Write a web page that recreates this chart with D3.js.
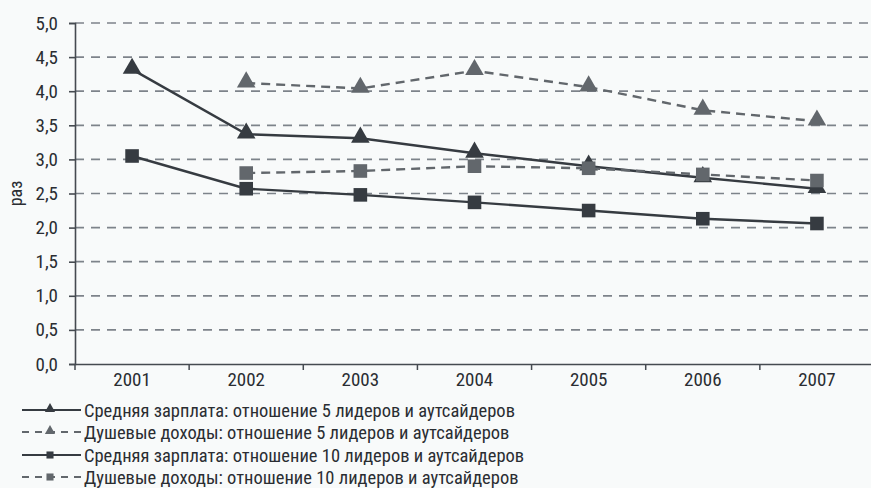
<!DOCTYPE html>
<html><head><meta charset="utf-8">
<script src="https://cdn.jsdelivr.net/npm/d3@7"></script>
<style>
html,body{margin:0;padding:0;background:#f8fafa;}
svg{display:block;font-family:"Liberation Sans Narrow","Roboto Condensed","Arial Narrow","Liberation Sans",sans-serif;font-weight:400;}
</style></head>
<body><svg id="c" width="871" height="488"></svg>
<script>
const years = ["2001","2002","2003","2004","2005","2006","2007"];
const wage5   = [4.32, 3.37, 3.31, 3.09, 2.90, 2.73, 2.57];
const income5 = [null, 4.12, 4.04, 4.30, 4.06, 3.72, 3.56];
const wage10  = [3.05, 2.57, 2.48, 2.37, 2.25, 2.13, 2.06];
const income10= [null, 2.80, 2.83, 2.90, 2.87, 2.78, 2.69];
const yTicks = [0,0.5,1,1.5,2,2.5,3,3.5,4,4.5,5];
const seriesNames = [
  "Средняя зарплата: отношение 5 лидеров и аутсайдеров",
  "Душевые доходы: отношение 5 лидеров и аутсайдеров",
  "Средняя зарплата: отношение 10 лидеров и аутсайдеров",
  "Душевые доходы: отношение 10 лидеров и аутсайдеров"
];
const yLabel = "раз";

const series = [
  {name: seriesNames[0], values: wage5, dash: null, marker: "tri", color: "#363b41"},
  {name: seriesNames[1], values: income5, dash: "9,6", marker: "tri", color: "#62676c"},
  {name: seriesNames[2], values: wage10, dash: null, marker: "sq", color: "#363b41"},
  {name: seriesNames[3], values: income10, dash: "9,6", marker: "sq", color: "#62676c"}
];

const svg = d3.select("#c");
const mLeft = 75, mRight = 874, mTop = 23, mBottom = 364;
const x = d3.scaleBand().domain(years).range([mLeft, mRight]);
const y = d3.scaleLinear().domain([0,5]).range([mBottom, mTop]);
const fmt = d => d3.format(".1f")(d).replace(".", ",");
const axisColor = "#454a50", textColor = "#2a2d32";

// gridlines
svg.append("g").selectAll("line").data(yTicks.filter(d=>d>0)).join("line")
  .attr("x1", mLeft).attr("x2", 871).attr("y1", d=>y(d)).attr("y2", d=>y(d))
  .attr("stroke", "#7d838a").attr("stroke-width", 1.7).attr("stroke-dasharray", "9,7");

// y axis
const ya = svg.append("g").attr("transform", `translate(${mLeft},0)`)
  .call(d3.axisLeft(y).tickValues(yTicks).tickFormat(fmt).tickSize(6).tickPadding(11));
ya.select(".domain").attr("stroke", axisColor).attr("stroke-width", 1.6);
ya.selectAll(".tick line").attr("stroke", axisColor).attr("stroke-width", 1.6);
ya.selectAll("text").attr("fill", textColor).attr("font-size", 19);
ya.attr("font-family", null).attr("font-size", null);

// x axis
const xa = svg.append("g").attr("transform", `translate(0,${mBottom})`)
  .call(d3.axisBottom(x).tickSize(0).tickPadding(9));
xa.select(".domain").attr("stroke", axisColor).attr("stroke-width", 1.6);
xa.selectAll("text").attr("fill", textColor).attr("font-size", 19);
xa.attr("font-family", null).attr("font-size", null);
svg.append("g").selectAll("line").data(years).join("line")
  .attr("x1", d=>x(d)).attr("x2", d=>x(d)).attr("y1", mBottom).attr("y2", mBottom+6)
  .attr("stroke", axisColor).attr("stroke-width", 1.5);

// y label
svg.append("text").attr("transform", `translate(22,${y(2.5)}) rotate(-90)`)
  .attr("text-anchor", "middle").attr("font-size", 18).attr("fill", textColor).text(yLabel);

const cx = d => x(d) + x.bandwidth()/2;
const tri = d3.symbol().type(d3.symbolTriangle);
const sq = d3.symbol().type(d3.symbolSquare);

series.forEach(s => {
  const pts = years.map((yr,i)=>({yr, v:s.values[i]})).filter(p=>p.v!=null);
  svg.append("path").datum(pts)
    .attr("d", d3.line().x(p=>cx(p.yr)).y(p=>y(p.v)))
    .attr("fill","none").attr("stroke", s.color).attr("stroke-width", 2.4)
    .attr("stroke-dasharray", s.dash);
  svg.append("g").selectAll("path").data(pts).join("path")
    .attr("transform", p=>`translate(${cx(p.yr)},${y(p.v) + (s.marker==="tri"?-1:0)})`)
    .attr("d", s.marker==="tri" ? tri.size(150)() : sq.size(185)())
    .attr("fill", s.color);
});

// legend
const lg = svg.append("g");
const rowY = [410, 432, 455, 477];
series.forEach((s,i) => {
  const g = lg.append("g").attr("transform", `translate(0,${rowY[i]})`);
  g.append("line").attr("x1", 22).attr("x2", 81).attr("y1", 0).attr("y2", 0)
    .attr("stroke", s.color).attr("stroke-width", 2.2).attr("stroke-dasharray", s.dash ? "7,6" : null);
  g.append("path").attr("transform", `translate(50,${s.marker==="tri"?-1:0})`)
    .attr("d", s.marker==="tri" ? tri.size(45)() : sq.size(50)()).attr("fill", s.color);
  g.append("text").attr("x", 84).attr("y", 6.5).attr("font-size", 18.5).attr("fill", textColor).text(s.name);
});
</script></body></html>
